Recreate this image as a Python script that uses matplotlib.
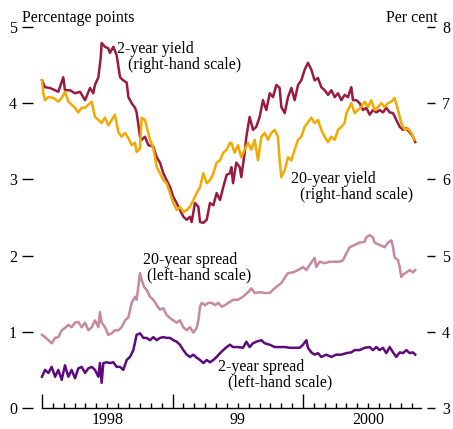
"""UK yields and spreads, 1998-2000 (dual scale line chart)."""

import matplotlib
matplotlib.use('Agg')
import matplotlib.pyplot as plt
from matplotlib.ticker import FixedLocator, NullFormatter

plt.rcParams['font.family'] = ['Liberation Serif', 'DejaVu Serif']

# decimal years / values
yield2_t = [1998.000, 1998.023, 1998.061, 1998.100, 1998.125, 1998.163, 1998.176, 1998.215,
            1998.253, 1998.291, 1998.330, 1998.368, 1998.393, 1998.406, 1998.432, 1998.450,
            1998.457, 1998.483, 1998.508, 1998.521, 1998.547, 1998.572, 1998.598, 1998.623,
            1998.649, 1998.662, 1998.687, 1998.713, 1998.725, 1998.751, 1998.764, 1998.789,
            1998.815, 1998.853, 1998.879, 1998.904, 1998.930, 1998.955, 1998.981, 1999.006,
            1999.032, 1999.057, 1999.083, 1999.109, 1999.134, 1999.147, 1999.172, 1999.198,
            1999.211, 1999.236, 1999.262, 1999.287, 1999.313, 1999.338, 1999.364, 1999.389,
            1999.415, 1999.440, 1999.451, 1999.464, 1999.489, 1999.515, 1999.527, 1999.553,
            1999.566, 1999.591, 1999.617, 1999.642, 1999.668, 1999.693, 1999.719, 1999.745,
            1999.770, 1999.796, 1999.821, 1999.834, 1999.860, 1999.885, 1999.911, 1999.936,
            1999.962, 1999.987, 2000.013, 2000.038, 2000.064, 2000.089, 2000.115, 2000.140,
            2000.166, 2000.192, 2000.217, 2000.243, 2000.268, 2000.294, 2000.319, 2000.345,
            2000.370, 2000.383, 2000.409, 2000.434, 2000.460, 2000.485, 2000.511, 2000.536,
            2000.562, 2000.587, 2000.613, 2000.638, 2000.664, 2000.690, 2000.715, 2000.741,
            2000.766, 2000.792, 2000.817, 2000.843, 2000.860]
yield2 = [7.30, 7.21, 7.20, 7.17, 7.15, 7.34, 7.17, 7.17,
          7.13, 7.15, 7.04, 7.20, 7.13, 7.24, 7.34, 7.60,
          7.79, 7.74, 7.72, 7.66, 7.74, 7.63, 7.34, 7.30,
          7.27, 7.08, 7.00, 6.94, 6.88, 6.56, 6.52, 6.56,
          6.45, 6.43, 6.29, 6.22, 6.08, 5.99, 5.90, 5.77,
          5.69, 5.60, 5.51, 5.47, 5.51, 5.44, 5.69, 5.64,
          5.44, 5.43, 5.47, 5.69, 5.66, 5.82, 5.73, 5.90,
          6.06, 6.08, 6.16, 5.95, 6.22, 6.16, 6.03, 6.35,
          6.56, 6.82, 6.65, 6.69, 6.82, 7.04, 6.91, 7.13,
          7.08, 7.24, 7.20, 6.95, 6.87, 7.08, 7.20, 7.04,
          7.24, 7.30, 7.44, 7.53, 7.44, 7.30, 7.33, 7.21,
          7.17, 7.11, 7.17, 7.08, 7.13, 7.04, 7.11, 7.08,
          7.21, 7.04, 7.04, 7.00, 6.91, 6.94, 6.85, 6.91,
          6.88, 6.91, 6.88, 6.94, 6.88, 6.87, 6.78, 6.69,
          6.65, 6.67, 6.62, 6.56, 6.49]

yield20_t = [1998.000, 1998.010, 1998.023, 1998.049, 1998.087, 1998.125, 1998.151, 1998.176,
             1998.202, 1998.227, 1998.253, 1998.278, 1998.304, 1998.330, 1998.355, 1998.381,
             1998.406, 1998.432, 1998.457, 1998.483, 1998.508, 1998.534, 1998.559, 1998.585,
             1998.610, 1998.636, 1998.662, 1998.687, 1998.713, 1998.725, 1998.751, 1998.764,
             1998.789, 1998.802, 1998.828, 1998.853, 1998.879, 1998.904, 1998.930, 1998.955,
             1998.981, 1999.006, 1999.032, 1999.057, 1999.083, 1999.109, 1999.134, 1999.160,
             1999.185, 1999.211, 1999.236, 1999.262, 1999.287, 1999.313, 1999.338, 1999.364,
             1999.389, 1999.415, 1999.440, 1999.451, 1999.476, 1999.502, 1999.527, 1999.553,
             1999.579, 1999.604, 1999.630, 1999.655, 1999.681, 1999.706, 1999.732, 1999.757,
             1999.783, 1999.808, 1999.821, 1999.834, 1999.860, 1999.885, 1999.911, 1999.936,
             1999.962, 1999.987, 2000.013, 2000.038, 2000.064, 2000.089, 2000.115, 2000.140,
             2000.166, 2000.192, 2000.217, 2000.243, 2000.268, 2000.294, 2000.319, 2000.332,
             2000.345, 2000.370, 2000.396, 2000.421, 2000.447, 2000.472, 2000.498, 2000.523,
             2000.549, 2000.575, 2000.600, 2000.626, 2000.651, 2000.677, 2000.702, 2000.728,
             2000.753, 2000.779, 2000.804, 2000.830, 2000.855]
yield20 = [7.30, 7.13, 7.04, 7.08, 7.07, 7.02, 7.07, 7.15,
           7.02, 6.98, 6.94, 6.88, 6.94, 6.94, 6.98, 7.02,
           6.82, 6.78, 6.74, 6.81, 6.71, 6.78, 6.85, 6.62,
           6.56, 6.61, 6.54, 6.45, 6.48, 6.36, 6.41, 6.81,
           6.78, 6.69, 6.52, 6.41, 6.16, 6.08, 5.99, 5.95,
           5.82, 5.69, 5.60, 5.64, 5.57, 5.60, 5.64, 5.73,
           5.82, 5.90, 6.08, 5.95, 5.99, 6.08, 6.22, 6.25,
           6.35, 6.39, 6.48, 6.48, 6.35, 6.45, 6.29, 6.39,
           6.48, 6.39, 6.52, 6.25, 6.56, 6.61, 6.52, 6.61,
           6.65, 6.56, 6.25, 6.03, 6.12, 6.29, 6.25, 6.39,
           6.52, 6.56, 6.69, 6.75, 6.81, 6.74, 6.78, 6.65,
           6.56, 6.49, 6.56, 6.52, 6.65, 6.69, 6.74, 6.87,
           6.91, 7.00, 6.87, 6.91, 6.95, 7.02, 6.95, 7.04,
           6.91, 6.95, 7.00, 6.95, 7.00, 7.02, 7.07, 6.91,
           6.74, 6.65, 6.67, 6.61, 6.52]

spread20_t = [1998.000, 1998.023, 1998.049, 1998.074, 1998.100, 1998.125, 1998.151, 1998.176,
              1998.202, 1998.227, 1998.253, 1998.278, 1998.304, 1998.330, 1998.355, 1998.381,
              1998.406, 1998.432, 1998.444, 1998.457, 1998.483, 1998.508, 1998.534, 1998.559,
              1998.585, 1998.610, 1998.636, 1998.662, 1998.687, 1998.713, 1998.725, 1998.738,
              1998.751, 1998.764, 1998.782, 1998.802, 1998.828, 1998.853, 1998.879, 1998.904,
              1998.930, 1998.955, 1998.981, 1999.006, 1999.032, 1999.057, 1999.083, 1999.109,
              1999.134, 1999.160, 1999.185, 1999.198, 1999.211, 1999.224, 1999.249, 1999.275,
              1999.300, 1999.326, 1999.351, 1999.377, 1999.402, 1999.428, 1999.464, 1999.502,
              1999.540, 1999.579, 1999.604, 1999.630, 1999.668, 1999.706, 1999.745, 1999.770,
              1999.796, 1999.834, 1999.860, 1999.885, 1999.923, 1999.962, 2000.000, 2000.026,
              2000.051, 2000.089, 2000.102, 2000.128, 2000.166, 2000.204, 2000.243, 2000.281,
              2000.307, 2000.332, 2000.358, 2000.396, 2000.434, 2000.472, 2000.485, 2000.511,
              2000.536, 2000.549, 2000.587, 2000.626, 2000.651, 2000.677, 2000.690, 2000.702,
              2000.728, 2000.741, 2000.753, 2000.766, 2000.792, 2000.817, 2000.843, 2000.860]
spread20 = [0.96, 0.93, 0.89, 0.85, 0.92, 0.93, 1.02, 1.05,
            1.09, 1.06, 1.12, 1.13, 1.06, 1.12, 1.02, 1.06,
            1.15, 1.06, 1.26, 1.12, 1.06, 0.96, 0.98, 1.02,
            1.02, 1.06, 1.15, 1.19, 1.38, 1.46, 1.42, 1.59,
            1.77, 1.68, 1.59, 1.55, 1.46, 1.42, 1.35, 1.29,
            1.31, 1.22, 1.18, 1.15, 1.12, 1.15, 1.06, 1.02,
            1.06, 0.99, 1.05, 1.15, 1.33, 1.38, 1.35, 1.38,
            1.38, 1.35, 1.38, 1.33, 1.35, 1.38, 1.42, 1.42,
            1.46, 1.52, 1.57, 1.51, 1.52, 1.51, 1.51, 1.55,
            1.59, 1.64, 1.71, 1.77, 1.78, 1.81, 1.85, 1.81,
            1.88, 1.97, 1.85, 1.92, 1.90, 1.92, 1.92, 1.92,
            1.94, 2.03, 2.11, 2.14, 2.17, 2.18, 2.24, 2.27,
            2.24, 2.17, 2.14, 2.11, 2.17, 2.20, 2.11, 1.98,
            1.94, 1.85, 1.72, 1.75, 1.78, 1.81, 1.78, 1.81]

spread2_t = [1998.000, 1998.023, 1998.049, 1998.074, 1998.100, 1998.125, 1998.151, 1998.176,
             1998.202, 1998.227, 1998.253, 1998.278, 1998.304, 1998.330, 1998.355, 1998.381,
             1998.406, 1998.432, 1998.444, 1998.457, 1998.470, 1998.496, 1998.521, 1998.547,
             1998.572, 1998.598, 1998.623, 1998.649, 1998.674, 1998.700, 1998.725, 1998.751,
             1998.777, 1998.802, 1998.828, 1998.853, 1998.879, 1998.904, 1998.930, 1998.955,
             1998.981, 1999.006, 1999.032, 1999.057, 1999.083, 1999.109, 1999.134, 1999.160,
             1999.185, 1999.211, 1999.236, 1999.262, 1999.287, 1999.313, 1999.338, 1999.364,
             1999.389, 1999.415, 1999.440, 1999.464, 1999.502, 1999.540, 1999.566, 1999.591,
             1999.617, 1999.642, 1999.681, 1999.706, 1999.745, 1999.783, 1999.821, 1999.860,
             1999.898, 1999.936, 1999.974, 2000.000, 2000.026, 2000.038, 2000.064, 2000.089,
             2000.115, 2000.140, 2000.179, 2000.217, 2000.255, 2000.294, 2000.332, 2000.370,
             2000.396, 2000.434, 2000.472, 2000.511, 2000.536, 2000.562, 2000.587, 2000.613,
             2000.638, 2000.664, 2000.690, 2000.715, 2000.741, 2000.766, 2000.792, 2000.817,
             2000.843, 2000.860]
spread2 = [0.41, 0.50, 0.46, 0.54, 0.41, 0.50, 0.37, 0.56,
           0.41, 0.50, 0.39, 0.52, 0.54, 0.46, 0.52, 0.54,
           0.50, 0.41, 0.59, 0.33, 0.59, 0.60, 0.59, 0.60,
           0.54, 0.54, 0.50, 0.63, 0.67, 0.76, 0.96, 0.98,
           0.92, 0.92, 0.89, 0.93, 0.89, 0.92, 0.93, 0.92,
           0.92, 0.89, 0.87, 0.83, 0.76, 0.70, 0.67, 0.70,
           0.66, 0.63, 0.59, 0.63, 0.60, 0.63, 0.67, 0.72,
           0.76, 0.80, 0.83, 0.80, 0.80, 0.79, 0.87, 0.80,
           0.85, 0.87, 0.89, 0.85, 0.83, 0.80, 0.80, 0.80,
           0.79, 0.79, 0.79, 0.83, 0.89, 0.79, 0.73, 0.70,
           0.72, 0.67, 0.70, 0.67, 0.70, 0.70, 0.72, 0.73,
           0.76, 0.76, 0.79, 0.80, 0.76, 0.80, 0.76, 0.79,
           0.72, 0.80, 0.73, 0.67, 0.73, 0.72, 0.76, 0.72,
           0.73, 0.70]

years = [1998, 1999, 2000]
year_labels = ['1998', '99', '2000']

C_Y2 = '#9a1b40'
C_Y20 = '#f2a900'
C_S20 = '#c8899c'
C_S2 = '#5c0a7c'
FS = 11.5


def main():
    fig = plt.figure(figsize=(4.53, 4.29), dpi=100)
    ax = fig.add_axes([33 / 453, 21 / 429, 394 / 453, 381 / 429])
    ax2 = ax.twinx()

    ax.plot(spread20_t, spread20, color=C_S20, lw=1.8, solid_joinstyle='round')
    ax.plot(spread2_t, spread2, color=C_S2, lw=1.8, solid_joinstyle='round')
    ax2.plot(yield2_t, yield2, color=C_Y2, lw=1.8, solid_joinstyle='round')
    ax2.plot(yield20_t, yield20, color=C_Y20, lw=1.8, solid_joinstyle='round')

    ax.set_xlim(1998 - 9 / 130.5, 2000 + 124 / 130.5)
    ax.set_ylim(0, 5)
    ax2.set_ylim(3, 8)

    for a in (ax, ax2):
        for s in ('top', 'left', 'right'):
            a.spines[s].set_visible(False)
    ax2.spines['bottom'].set_visible(False)
    ax.spines['bottom'].set_bounds(1998.0, 2000 + 118 / 130.5)
    ax.spines['bottom'].set_linewidth(1.0)

    ax.set_yticks([0, 1, 2, 3, 4, 5])
    ax2.set_yticks([3, 4, 5, 6, 7, 8])
    ax.tick_params(axis='y', direction='out', length=7.9, width=1.0, pad=3.6, labelsize=FS)
    ax2.tick_params(axis='y', direction='out', length=5.8, width=1.0, pad=5.0, labelsize=FS)

    ax.xaxis.set_major_locator(FixedLocator(years))
    ax.xaxis.set_minor_locator(FixedLocator([1998 + k / 12 for k in range(35) if k % 12]))
    ax.xaxis.set_major_formatter(NullFormatter())
    ax.tick_params(axis='x', which='major', direction='in', length=10, width=1.0)
    ax.tick_params(axis='x', which='minor', direction='in', length=3.6, width=1.0)
    for yr, lab in zip(years, year_labels):
        ax.text(yr + 0.5, -0.215, lab, ha='center', va='baseline', fontsize=FS, clip_on=False)

    kw = dict(fontsize=FS, va='baseline', ha='left')
    ax.text(1998.575, 4.66, '2-year yield', **kw)
    ax.text(1998.659, 4.455, '(right-hand scale)', **kw)
    ax.text(1999.908, 2.953, '20-year yield', **kw)
    ax.text(1999.975, 2.743, '(right-hand scale)', **kw)
    ax.text(1998.772, 1.89, '20-year spread', **kw)
    ax.text(1998.807, 1.69, '(left-hand scale)', **kw)
    ax.text(1999.349, 0.49, '2-year spread', **kw)
    ax.text(1999.425, 0.28, '(left-hand scale)', **kw)

    fig.text(22 / 453, 1 - 22 / 429, 'Percentage points', fontsize=FS, ha='left', va='baseline')
    fig.text(438 / 453, 1 - 22 / 429, 'Per cent', fontsize=FS, ha='right', va='baseline')

    fig.savefig('out.png', dpi=100)
    plt.close(fig)


if __name__ == '__main__':
    main()
